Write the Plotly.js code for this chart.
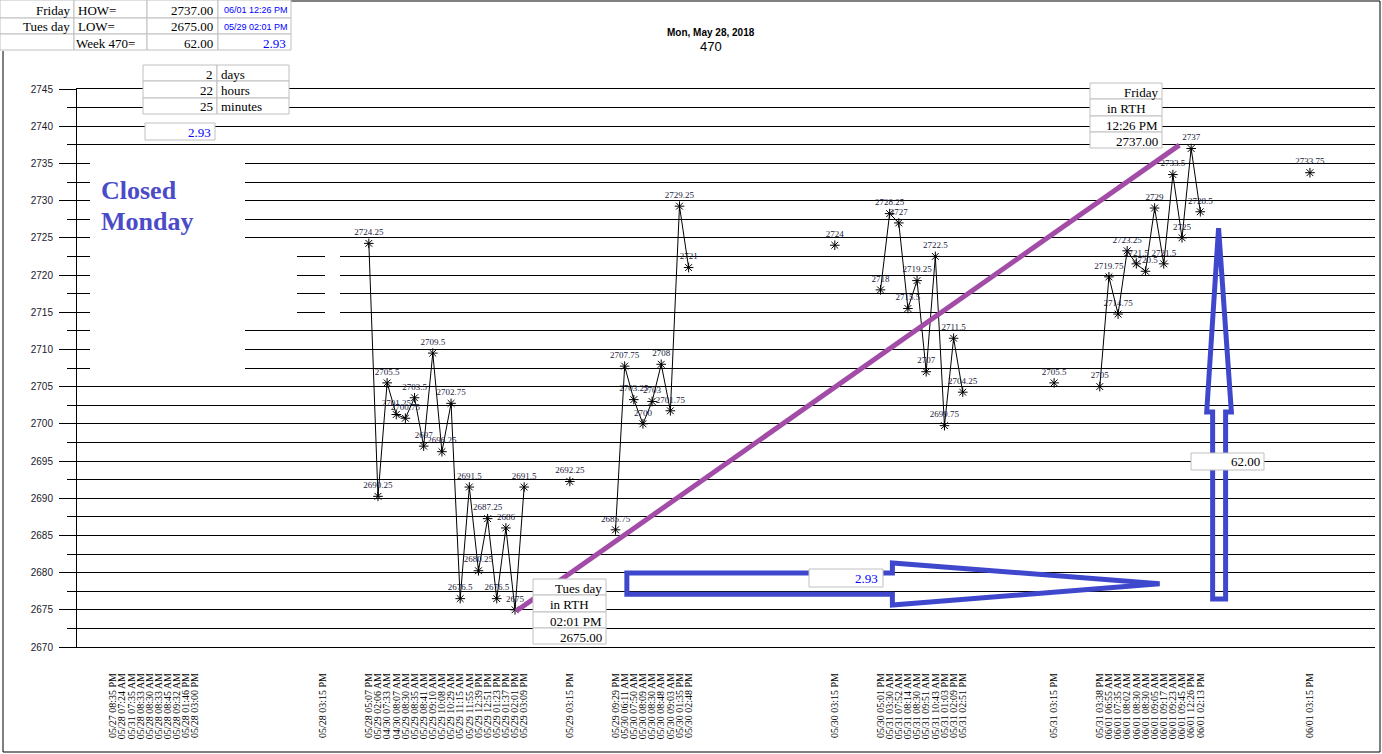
<!DOCTYPE html>
<html><head><meta charset="utf-8">
<script src="https://cdn.plot.ly/plotly-3.0.1.min.js"></script>
<style>html,body{margin:0;padding:0;background:#fff;} #chart{width:1382px;height:754px;}</style>
</head><body><div id="chart"></div>
<script>
// ---- data ----
const tickText = [
 "05/27 08:35 PM","05/28 07:24 AM","05/31 07:35 AM","05/28 08:33 AM","05/28 08:30 AM","05/28 08:33 AM","05/28 08:45 AM","05/28 09:32 AM","05/28 01:46 PM","05/28 03:00 PM",
 "05/28 03:15 PM",
 "05/28 05:07 PM","05/29 02:06 AM","04/30 07:33 AM","04/30 08:07 AM","05/29 08:30 AM","05/29 08:35 AM","05/29 08:41 AM","05/29 09:10 AM","05/29 10:08 AM","05/29 10:29 AM","05/29 11:15 AM","05/29 11:55 AM","05/29 12:39 PM","05/29 12:51 PM","05/29 01:23 PM","05/29 01:37 PM","05/29 02:01 PM","05/29 03:09 PM",
 "05/29 03:15 PM",
 "05/29 09:29 PM","05/30 06:11 AM","05/30 07:50 AM","05/30 08:09 AM","05/30 08:30 AM","05/30 08:48 AM","05/30 09:03 AM","05/30 01:35 PM","05/30 02:48 PM",
 "05/30 03:15 PM",
 "05/30 05:01 PM","05/31 03:30 AM","05/31 07:52 AM","05/31 08:14 AM","05/31 08:30 AM","05/31 09:51 AM","05/31 10:43 AM","05/31 01:03 PM","05/31 02:09 PM","05/31 02:51 PM",
 "05/31 03:15 PM",
 "05/31 03:38 PM","06/01 06:55 AM","06/01 07:35 AM","06/01 08:02 AM","06/01 08:30 AM","06/01 08:30 AM","06/01 09:05 AM","06/01 09:17 AM","06/01 09:23 AM","06/01 09:45 AM","06/01 12:26 PM","06/01 02:13 PM",
 "06/01 03:15 PM"];
const tickSlot = [
 0,1,2,3,4,5,6,7,8,9,
 23,
 28,29,30,31,32,33,34,35,36,37,38,39,40,41,42,43,44,45,
 50,
 55,56,57,58,59,60,61,62,63,
 79,
 84,85,86,87,88,89,90,91,92,93,
 103,
 108,109,110,111,112,113,114,115,116,117,118,119,
 131];
const price = [
 null,null,null,null,null,null,null,null,null,null,
 null,
 2724.25,2690.25,2705.5,2701.25,2700.75,2703.5,2697,2709.5,2696.25,2702.75,2676.5,2691.5,2680.25,2687.25,2676.5,2686,2675,2691.5,
 2692.25,
 2685.75,2707.75,2703.25,2700,2703,2708,2701.75,2729.25,2721,
 2724,
 2718,2728.25,2727,2715.5,2719.25,2707,2722.5,2699.75,2711.5,2704.25,
 2705.5,
 2705,2719.75,2714.75,2723.25,2721.5,2720.5,2729,2721.5,2733.5,2725,2737,2728.5,
 2733.75];
const summaryRows = [["Friday","HOW=","2737.00","06/01 12:26 PM"],["Tues day","LOW=","2675.00","05/29 02:01 PM"],["","Week 470=","62.00","2.93"]];
const durationRows = [["2","days"],["22","hours"],["25","minutes"]];
const lowBox = ["Tues day","in RTH","02:01 PM","2675.00"];
const highBox = ["Friday","in RTH","12:26 PM","2737.00"];
const rangeText = "62.00", rateText = "2.93";
const closedText = ["Closed","Monday"];

// ---- build series with breaks between non-adjacent slots ----
const xs=[], ys=[], tx=[];
let prev=null;
for (let i=0;i<price.length;i++){
  if (price[i]===null) continue;
  if (prev!==null && tickSlot[i]-prev>1){ xs.push(null); ys.push(null); tx.push(''); }
  xs.push(tickSlot[i]); ys.push(price[i]); tx.push(String(price[i]));
  prev=tickSlot[i];
}

// ---- pixel helpers for decorations ----
const L=77, T=89, W=1298, H=558;
const px = x => (x-L)/W, py = y => (T+H-y)/H;
const shapes=[], annotations=[];
const BLUE='#0000ff';
function rect(x0,y0,x1,y1){
  shapes.push({type:'rect',xref:'paper',yref:'paper',x0:px(x0),x1:px(x1),y0:py(y1),y1:py(y0),
    line:{color:'#c0c0c0',width:1},fillcolor:'white',layer:'above'});
}
function cover(x0,y0,x1,y1){
  shapes.push({type:'rect',xref:'paper',yref:'paper',x0:px(x0),x1:px(x1),y0:py(y1),y1:py(y0),line:{width:0},fillcolor:'white',layer:'above'});
}
function txt(s,x,y,anchor,font){
  annotations.push({xref:'paper',yref:'paper',x:px(x),y:py(y),text:s,showarrow:false,xanchor:anchor,yanchor:'middle',borderpad:0,
    font:Object.assign({family:'Liberation Serif',size:13,color:'black'},font||{})});
}

// purple low->high line
shapes.push({type:'line',xref:'x',yref:'y',x0:44.1,y0:2674.8,x1:116.7,y1:2737.45,line:{color:'#a24ca8',width:5},layer:'above'});
// blue arrows
shapes.push({type:'path',xref:'x',yref:'y',layer:'above',line:{color:'#3f48cc',width:5},
  path:'M56.24,2679.95 L85.3,2679.95 L85.3,2681.3 L114.55,2678.5 L85.3,2675.65 L85.3,2677.1 L56.24,2677.1 Z'});
shapes.push({type:'path',xref:'x',yref:'y',layer:'above',line:{color:'#3f48cc',width:5},
  path:'M120.35,2676.45 L120.35,2701.6 L119.7,2701.6 L121.0,2726.3 L122.4,2701.6 L121.77,2701.6 L121.77,2676.45 Z'});

// white covers
cover(90,150,245,381);
cover(245,248,297,322);
cover(325,248,340,322);

// outer frame
shapes.push({type:'path',xref:'paper',yref:'paper',layer:'above',line:{color:'black',width:1},
  path:`M${px(3)},${py(51)} L${px(3)},${py(752)} L${px(1380)},${py(752)} L${px(1380)},${py(1)} L${px(291)},${py(1)}`});

// summary table
const sCols=[0,74,147,218,291], sRows=[0,18,34,50];
for (let r=0;r<3;r++) for (let c=0;c<4;c++) rect(sCols[c],sRows[r],sCols[c+1],sRows[r+1]);
summaryRows.forEach((row,r)=>{
  const yc=(sRows[r]+sRows[r+1])/2+1;
  txt(row[0],71,yc,'right');
  txt(row[1],r===2?75:77,yc,'left');
  txt(row[2],214,yc,'right');
  if (r<2) txt(row[3],289,yc,'right',{family:'Liberation Sans',size:9,color:BLUE});
  else txt(row[3],287,yc,'right',{color:BLUE});
});
// duration box
const dRows=[65,81,98,114];
durationRows.forEach((row,r)=>{
  rect(143,dRows[r],217,dRows[r+1]); rect(217,dRows[r],289,dRows[r+1]);
  const yc=(dRows[r]+dRows[r+1])/2+1;
  txt(row[0],214,yc,'right'); txt(row[1],220,yc,'left');
});
rect(145,123,215,140); txt(rateText,212,132,'right',{color:BLUE});
// low box
const lRows=[579,595,612,628,644];
lowBox.forEach((s,r)=>{
  rect(533,lRows[r],606,lRows[r+1]);
  const yc=(lRows[r]+lRows[r+1])/2+1;
  if (r===1) txt(s,549,yc,'left'); else txt(s,603,yc,'right');
});
// high box
const hRows=[83,99,116,132,148];
highBox.forEach((s,r)=>{
  rect(1090,hRows[r],1162,hRows[r+1]);
  const yc=(hRows[r]+hRows[r+1])/2+1;
  if (r===1) txt(s,1106,yc,'left'); else txt(s,1159,yc,'right');
});
rect(1191,453,1264,470); txt(rangeText,1261,462,'right');
rect(809,569,883,587); txt(rateText,879,578,'right',{color:BLUE});

// Closed Monday
txt('<b>'+closedText[0]+'</b>',100,191,'left',{size:26,color:'#4b4bc8'});
txt('<b>'+closedText[1]+'</b>',100,222,'left',{size:26,color:'#4b4bc8'});

// titles
txt('<b>Mon, May 28, 2018</b>',711,32,'center',{family:'Liberation Sans',size:10});
txt('470',711,46,'center',{family:'Liberation Sans',size:13});

const trace={type:'scatter',mode:'lines+markers+text',x:xs,y:ys,text:tx,textposition:'top center',
  textfont:{family:'Liberation Serif',size:9,color:'#1a1a3a'},
  line:{color:'black',width:1},
  marker:{symbol:'asterisk-open',size:8,color:'black',line:{color:'black',width:1}},
  cliponaxis:false,hoverinfo:'none'};

const layout={
  width:1382,height:754,margin:{l:L,r:1382-L-W,t:T,b:754-T-H,pad:0},
  paper_bgcolor:'white',plot_bgcolor:'white',showlegend:false,
  xaxis:{range:[-3.94,138.12],tickmode:'array',tickvals:tickSlot,ticktext:tickText,tickangle:-90,
    tickfont:{family:'Liberation Serif',size:10,color:'black'},ticks:'',ticklabelstandoff:21,
    showgrid:false,zeroline:false,showline:true,mirror:true,linecolor:'black',linewidth:1,fixedrange:true},
  yaxis:{range:[2670,2745],tick0:2670,dtick:5,ticks:'outside',ticklen:17,tickcolor:'black',tickwidth:1,
    tickfont:{family:'Liberation Sans',size:10,color:'#1a1a2a'},ticklabelstandoff:4,
    showgrid:true,gridcolor:'black',gridwidth:1,zeroline:false,showline:true,linecolor:'black',linewidth:1,
    minor:{dtick:2.5,ticks:'outside',ticklen:9,tickcolor:'black',tickwidth:1,showgrid:true,gridcolor:'black',gridwidth:1},
    fixedrange:true},
  shapes:shapes,annotations:annotations
};
Plotly.newPlot('chart',[trace],layout,{displayModeBar:false,staticPlot:true});
</script></body></html>
